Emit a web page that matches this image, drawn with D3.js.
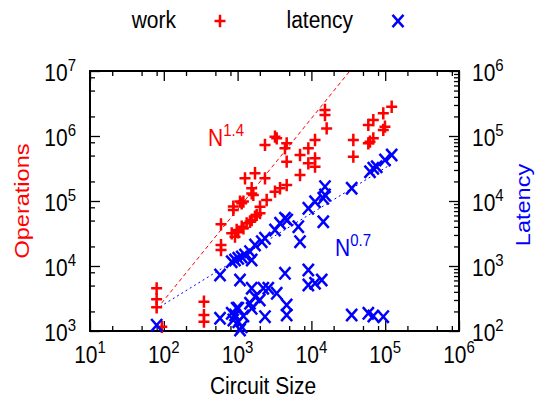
<!DOCTYPE html>
<html>
<head>
<meta charset="utf-8">
<script src="https://cdn.jsdelivr.net/npm/d3@7/dist/d3.min.js"></script>
<style>
  body { margin: 0; background: #fff; }
  svg { display: block; }
</style>
</head>
<body>
<div id="chart"></div>
<script>
// work points: circuit size vs operations (left axis)
const workSize = [80, 80, 80, 94, 350, 350, 350, 596, 596, 596,
  875, 875, 1078, 1137, 1200, 1552, 2014, 2477, 3213, 3757, 4625,
  832, 922, 972, 1021, 1137, 1200, 1327, 1472, 1552, 1721, 1814, 2014,
  1260, 1721, 2350, 1552, 1633,
  2350, 3213, 3388, 4625, 4385, 4625, 7015, 7015, 9086, 9086,
  11200, 11200, 11200, 15280, 15280, 16100, 37000, 37000,
  59040, 69000, 59040, 69000, 62200, 94200, 122400, 94200, 99300];
const workOps = [4540, 3080, 2320, 1160, 2830, 1760, 1390, 43800, 21000, 17600,
  72800, 82000, 98000, 92000, 98000, 131000, 81700, 103500, 139000, 157000, 176000,
  31800, 28300, 35800, 33000, 40300, 38000, 45400, 48000, 51000, 57500, 61000, 65000,
  223000, 267000, 223000, 157000, 124000,
  728000, 975000, 922000, 772000, 647000, 403000, 510000, 251000, 647000, 380000,
  868000, 454000, 337000, 2510000, 2100000, 1310000, 868000, 481000,
  1480000, 1760000, 772000, 922000, 817000, 2230000, 2820000, 1240000, 1390000];

// latency points: circuit size vs latency (right axis)
const latSize = [80, 578, 578, 832, 922, 1021, 1137, 1260, 1078, 1552, 1472, 1721,
  2122, 2350, 3213, 3757, 4385, 4700, 6650, 7015, 9086, 11200, 14500, 14500,
  15280, 15280, 35150, 62200, 69000, 76700, 99300, 122400,
  4385, 9086, 9086, 11200, 13800, 1552, 2230, 2606, 3388, 1721, 4625, 4625,
  1472, 1552, 1021, 922, 875, 1021, 1137, 1078, 2350, 35150, 59040, 69000, 94200,
  832, 972, 1200, 2000];
const latValue = [123, 727, 157, 1164, 1237, 1313, 1375, 1476, 609, 1237, 1660, 2104,
  2366, 2667, 3580, 4540, 5420, 5100, 4025, 2366, 7720, 9750, 11000, 4800,
  16600, 12400, 15700, 28200, 31800, 33700, 42700, 51000,
  772, 868, 510, 542, 609, 454, 454, 454, 380, 337, 251, 176,
  267, 223, 223, 176, 148, 139, 116, 104, 166, 176, 187, 170, 166,
  187, 223, 170, 300];

// fitted trend lines: value = coef * (size / size0) ^ exponent
const workFit = { size0: 93, coef: 2670, exponent: 1.4, sizeEnd: 1.2e5, label: '1.4' };
const latFit = { size0: 89, coef: 237, exponent: 0.7, sizeEnd: 1.2e5, label: '0.7' };

const xMajor = [1e1, 1e2, 1e3, 1e4, 1e5, 1e6];
const yLeftMajor = [1e3, 1e4, 1e5, 1e6, 1e7];
const yRightMajor = [1e2, 1e3, 1e4, 1e5, 1e6];

const width = 544, height = 401;
const margin = { top: 71, right: 85, bottom: 70, left: 90 };
const FS = 21, SUP = 15, SY = 1.12;   // font size, superscript size, vertical stretch

const svg = d3.select('#chart').append('svg')
  .attr('width', width).attr('height', height)
  .style('font-family', '"Liberation Sans", Arial, Helvetica, sans-serif');

const x = d3.scaleLog().domain([1e1, 1e6]).range([margin.left, width - margin.right]);
const yL = d3.scaleLog().domain([1e3, 1e7]).range([height - margin.bottom, margin.top]);
const yR = d3.scaleLog().domain([1e2, 1e6]).range([height - margin.bottom, margin.top]);

const x0 = x.range()[0], x1 = x.range()[1], y0 = yL.range()[0], y1 = yL.range()[1];

function minorTicks(majors, mults) {
  const out = [];
  majors.slice(0, -1).forEach(m => mults.forEach(k => out.push(m * k)));
  return out;
}

// axes: ticks pointing inward
function drawAxis(axisFn, scale, majors, mults, transform) {
  svg.append('g').attr('transform', transform)
    .call(axisFn(scale).tickValues(majors).tickSize(-10).tickFormat(''))
    .call(g => g.select('.domain').remove())
    .call(g => g.selectAll('line').attr('stroke-width', 1.3));
  svg.append('g').attr('transform', transform)
    .call(axisFn(scale).tickValues(minorTicks(majors, mults)).tickSize(-5).tickFormat(''))
    .call(g => g.select('.domain').remove())
    .call(g => g.selectAll('line').attr('stroke-width', 1.3));
}
drawAxis(d3.axisBottom, x, xMajor, [2, 5, 8], `translate(0,${y0})`);
drawAxis(d3.axisTop, x, xMajor, [2, 5, 8], `translate(0,${y1})`);
drawAxis(d3.axisLeft, yL, yLeftMajor, [2, 5, 8], `translate(${x0},0)`);
drawAxis(d3.axisRight, yR, yRightMajor, [2, 3, 4, 5, 6, 7, 8, 9], `translate(${x1},0)`);

svg.append('rect')
  .attr('x', x0).attr('y', y1).attr('width', x1 - x0).attr('height', y0 - y1)
  .attr('fill', 'none').attr('stroke', '#000').attr('stroke-width', 2);

// text with optional superscript, stretched vertically like the reference
function label(px, py, base, sup, opts = {}) {
  const g = svg.append('g')
    .attr('transform', `translate(${px},${py}) scale(1,${SY})` + (opts.rotate ? ` rotate(${opts.rotate})` : ''));
  const t = g.append('text')
    .attr('text-anchor', opts.anchor || 'middle')
    .attr('fill', opts.color || '#000')
    .attr('font-size', FS);
  t.append('tspan').text(base);
  if (sup) {
    t.append('tspan').attr('font-size', SUP).attr('dy', -9).text(sup);
  }
  return t;
}

const exp = v => String(Math.round(Math.log10(v)));
xMajor.forEach(v => label(x(v), 363, '10', exp(v)));
yLeftMajor.forEach(v => label(76, yL(v) + 10, '10', exp(v), { anchor: 'end' }));
yRightMajor.forEach(v => label(472, yR(v) + 10, '10', exp(v), { anchor: 'start' }));

label(263, 394, 'Circuit Size');
label(29, (y0 + y1) / 2, 'Operations', null, { rotate: -90, color: '#ff0000' });
label(530, (y0 + y1) / 2 + 4, 'Latency', null, { rotate: -90, color: '#0000ff' });

// clip for trend lines
svg.append('clipPath').attr('id', 'plotclip').append('rect')
  .attr('x', x0).attr('y', y1).attr('width', x1 - x0).attr('height', y0 - y1);

function fitLine(fit, yScale, color, dash) {
  const pts = [fit.size0, fit.sizeEnd].map(s => [s, fit.coef * Math.pow(s / fit.size0, fit.exponent)]);
  svg.append('path')
    .attr('clip-path', 'url(#plotclip)')
    .attr('d', d3.line().x(d => x(d[0])).y(d => yScale(d[1]))(pts))
    .attr('fill', 'none').attr('stroke', color).attr('stroke-width', 1)
    .attr('stroke-dasharray', dash);
}
fitLine(workFit, yL, '#ff0000', '4,3');
fitLine(latFit, yR, '#0000ff', '2,3');

label(208, 146, 'N', workFit.label, { anchor: 'start', color: '#ff0000' });
label(335, 256, 'N', latFit.label, { anchor: 'start', color: '#0000ff' });

// markers
const hw = 5.5, hh = 5.5 * SY;
function plus(g, cx, cy, color) {
  g.append('path')
    .attr('d', `M${cx - hw},${cy}H${cx + hw}M${cx},${cy - hh}V${cy + hh}`)
    .attr('stroke', color).attr('stroke-width', 2.5).attr('fill', 'none');
}
function cross(g, cx, cy, color) {
  g.append('path')
    .attr('d', `M${cx - hw},${cy - hh}L${cx + hw},${cy + hh}M${cx - hw},${cy + hh}L${cx + hw},${cy - hh}`)
    .attr('stroke', color).attr('stroke-width', 2.5).attr('fill', 'none');
}

const workG = svg.append('g');
workSize.forEach((s, i) => plus(workG, x(s), yL(workOps[i]), '#ff0000'));
const latG = svg.append('g');
latSize.forEach((s, i) => cross(latG, x(s), yR(latValue[i]), '#0000ff'));

// legend
label(176, 28, 'work', null, { anchor: 'end' });
plus(svg, 220, 21, '#ff0000');
label(353, 28, 'latency', null, { anchor: 'end' });
cross(svg, 398, 21, '#0000ff');
</script>
</body>
</html>
